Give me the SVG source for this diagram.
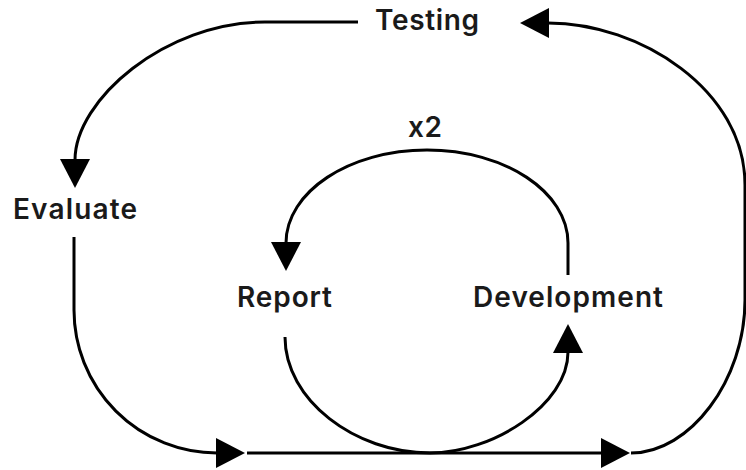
<svg xmlns="http://www.w3.org/2000/svg" width="746" height="470" viewBox="0 0 746 470">
<style>
.lbl{font-family:Inter,"Liberation Sans",sans-serif;font-weight:600;font-size:28px;fill:#1a1a1a}
.edge{fill:none;stroke:#000;stroke-width:3}
</style>
<defs>
<marker id="arr" markerUnits="userSpaceOnUse" viewBox="0 0 30 30" markerWidth="30" markerHeight="30" refX="1" refY="15" orient="auto">
<path d="M0,0 L29,15 L0,30 z" fill="#000"/>
</marker>
</defs>
<rect width="746" height="470" fill="#fff"/>
<g id="connectors">
<path class="edge" d="M358 22 L265 22 C165 22 75 100 75 160" marker-end="url(#arr)"/>
<path class="edge" d="M74 237 L74 310 A143 143 0 0 0 217 453" marker-end="url(#arr)"/>
<path class="edge" d="M247 453 L602 453" marker-end="url(#arr)"/>
<path class="edge" d="M631 453 C690 453 745 380 745 300 L745 185 C745 90 640 23 548 23" marker-end="url(#arr)"/>
<path class="edge" d="M568 275 L568 243 C568 192 505 150 427 150 C349 150 286 192 286 243" marker-end="url(#arr)"/>
<path class="edge" d="M285 337 C285 400 355 453 430 453 C492 453 568 405 568 352" marker-end="url(#arr)"/>
<text class="lbl" x="408" y="137" textLength="34" lengthAdjust="spacing">x2</text>
</g>
<g id="testing"><text class="lbl" x="375" y="30" textLength="104" lengthAdjust="spacing">Testing</text></g>
<g id="evaluate"><text class="lbl" x="13" y="219" textLength="124" lengthAdjust="spacing">Evaluate</text></g>
<g id="report"><text class="lbl" x="237" y="307" textLength="95" lengthAdjust="spacing">Report</text></g>
<g id="development"><text class="lbl" x="473" y="307" textLength="190" lengthAdjust="spacing">Development</text></g>
</svg>
